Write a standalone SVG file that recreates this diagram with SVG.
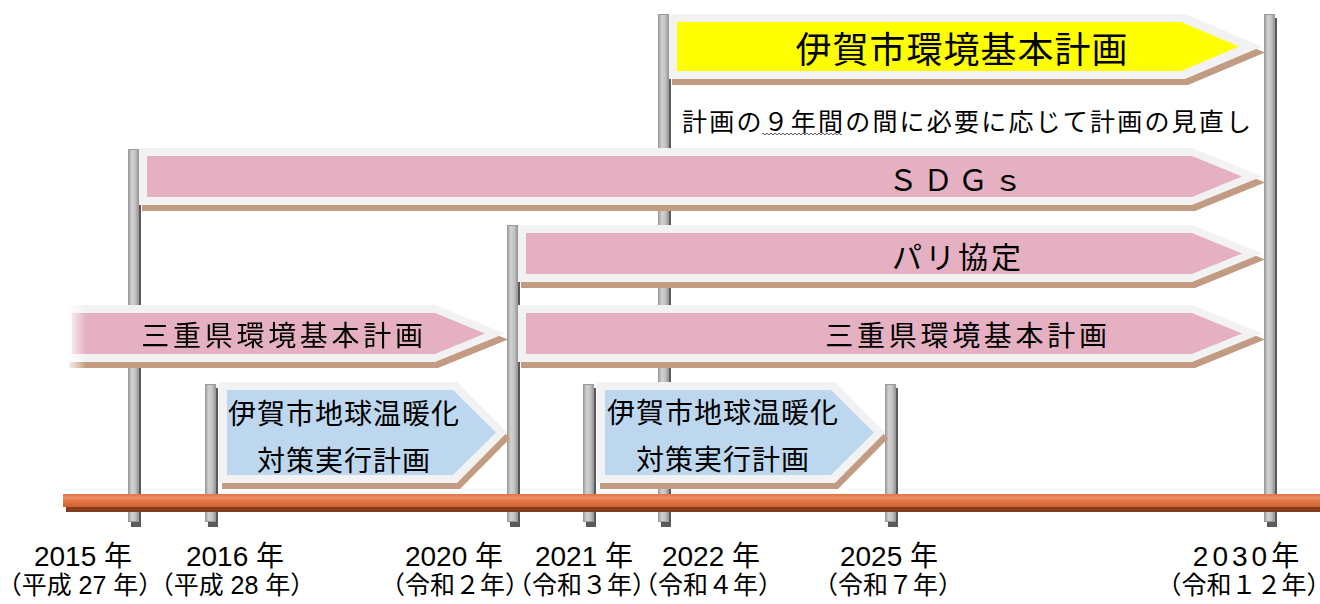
<svg xmlns="http://www.w3.org/2000/svg" width="1320" height="604" viewBox="0 0 1320 604">
<style>
.shadow{fill:#c29b82}
.outer{fill:#f2f2f2}
.pink{fill:#e4b0c2}
.blue{fill:#bdd7ee}
.yellow{fill:#ffff00}
.psh{fill:#5a5a5a}
.pole{fill:url(#poleGrad);stroke:#9a9a9a;stroke-width:1}
.jp{font-family:"Noto Sans CJK JP","Noto Sans",sans-serif;fill:#000;dominant-baseline:central;text-anchor:middle}
.yr{font-family:"Liberation Sans","Noto Sans CJK JP",sans-serif;fill:#000;text-anchor:middle;font-size:28px}
.yr2{font-family:"Liberation Sans","Noto Sans CJK JP",sans-serif;fill:#000;text-anchor:middle;font-size:25px}
.h{font-feature-settings:"halt"}
</style>
<defs>
<linearGradient id="poleGrad" x1="0" y1="0" x2="1" y2="0">
<stop offset="0" stop-color="#a3a3a3"/>
<stop offset="0.35" stop-color="#d2d2d2"/>
<stop offset="0.7" stop-color="#c0c0c0"/>
<stop offset="1" stop-color="#969696"/>
</linearGradient>
<linearGradient id="barGrad" x1="0" y1="0" x2="0" y2="1">
<stop offset="0" stop-color="#e2713f"/>
<stop offset="0.3" stop-color="#ec9068"/>
<stop offset="0.55" stop-color="#e27545"/>
<stop offset="1" stop-color="#d0612f"/>
</linearGradient>
<linearGradient id="fadeGrad" gradientUnits="userSpaceOnUse" x1="66" y1="0" x2="86" y2="0">
<stop offset="0" stop-color="#fff" stop-opacity="0"/>
<stop offset="1" stop-color="#fff" stop-opacity="1"/>
</linearGradient>
<mask id="fadeMask" maskUnits="userSpaceOnUse" x="0" y="290" width="560" height="90">
<rect x="0" y="290" width="560" height="90" fill="url(#fadeGrad)"/>
</mask>
</defs>

<g id="poles">
<g id="pole-2015"><rect class="psh" x="131" y="153" width="10" height="374"/><rect class="pole" x="128.5" y="149.5" width="10" height="372"/></g>
<g id="pole-2016"><rect class="psh" x="208" y="388" width="10" height="139"/><rect class="pole" x="205.5" y="384.5" width="10" height="137"/></g>
<g id="pole-2020"><rect class="psh" x="510" y="229" width="10" height="298"/><rect class="pole" x="507.5" y="225.5" width="10" height="296"/></g>
<g id="pole-2021"><rect class="psh" x="586" y="388" width="10" height="139"/><rect class="pole" x="583.5" y="384.5" width="10" height="137"/></g>
<g id="pole-2022"><rect class="psh" x="661" y="18" width="10" height="509"/><rect class="pole" x="658.5" y="14.5" width="10" height="507"/></g>
<g id="pole-2025"><rect class="psh" x="888" y="388" width="10" height="139"/><rect class="pole" x="885.5" y="384.5" width="10" height="137"/></g>
<g id="pole-2030"><rect class="psh" x="1267" y="18" width="10" height="509"/><rect class="pole" x="1264.5" y="14.5" width="10" height="507"/></g>
</g>

<g id="connectors">
<rect x="66" y="502" width="1254" height="10" fill="#843c1c"/>
<rect x="63" y="494" width="1257" height="13" fill="url(#barGrad)"/>
</g>

<g id="iga-env-plan">
<polygon class="shadow" points="672,20 1188,20 1265,52.5 1188,85 672,85"/>
<polygon class="outer" points="669,14 1185,14 1262,46.5 1185,79 669,79"/>
<polygon class="yellow" points="677,22 1181,22 1239,46.5 1181,71 677,71"/>
<text class="jp" x="962" y="47" font-size="36" letter-spacing="1">伊賀市環境基本計画</text>
</g>

<g id="review-note">
<text x="682" y="120" font-size="25" letter-spacing="2.2" style="font-family:'Noto Sans CJK JP','Noto Sans',sans-serif;dominant-baseline:central" fill="#000">計画の９年間の間に必要に応じて計画の見直し</text>
<path d="M762 134q1-1.6 2 0t2 0t2 0t2 0t2 0t2 0t2 0t2 0t2 0t2 0t2 0t2 0t2 0t2 0t2 0t2 0t2 0t2 0t2 0t2 0t2 0t2 0t2 0t2 0t2 0t2 0t2 0t2 0t2 0t2 0t2 0t2 0t2 0t2 0t2 0t2 0t2 0t2 0t2 0t2 0" fill="none" stroke="#555" stroke-width="1"/>
</g>

<g id="sdgs">
<polygon class="shadow" points="142,154 1195,154 1265,182.5 1195,211 142,211"/>
<polygon class="outer" points="139,148 1192,148 1262,176.5 1192,205 139,205"/>
<polygon class="pink" points="147,156 1192,156 1242,176.5 1192,197 147,197"/>
<text class="jp" x="958" y="178" font-size="30" letter-spacing="5">ＳＤＧｓ</text>
</g>

<g id="paris">
<polygon class="shadow" points="521,231 1195,231 1265,259.5 1195,288 521,288"/>
<polygon class="outer" points="518,225 1192,225 1262,253.5 1192,282 518,282"/>
<polygon class="pink" points="526,233 1192,233 1242,253.5 1192,274 526,274"/>
<text class="jp" x="958" y="255" font-size="30" letter-spacing="3">パリ協定</text>
</g>

<g id="mie-plan-old" mask="url(#fadeMask)">
<polygon class="shadow" points="69,311 438,311 508,339.5 438,368 69,368"/>
<polygon class="outer" points="66,305 435,305 505,333.5 435,362 66,362"/>
<polygon class="pink" points="72,313 435,313 485,333.5 435,354 72,354"/>
<text class="jp" x="284" y="334" font-size="28" letter-spacing="3.7">三重県環境基本計画</text>
</g>

<g id="mie-plan-new">
<polygon class="shadow" points="521,311 1195,311 1265,339.5 1195,368 521,368"/>
<polygon class="outer" points="518,305 1192,305 1262,333.5 1192,362 518,362"/>
<polygon class="pink" points="526,313 1192,313 1242,333.5 1192,354 526,354"/>
<text class="jp" x="968" y="334" font-size="28" letter-spacing="3.7">三重県環境基本計画</text>
</g>

<g id="warming-plan-1">
<polygon class="shadow" points="222,388 460,388 510,438.5 460,489 222,489"/>
<polygon class="outer" points="219,382 457,382 507,432.5 457,483 219,483"/>
<polygon class="blue" points="227,390 453,390 496,432.5 453,475 227,475"/>
<text class="jp" x="344" y="412" font-size="28" letter-spacing="1">伊賀市地球温暖化</text>
<text class="jp" x="344" y="459" font-size="28" letter-spacing="1">対策実行計画</text>
</g>

<g id="warming-plan-2">
<polygon class="shadow" points="600,388 838,388 888,438.5 838,489 600,489"/>
<polygon class="outer" points="597,382 835,382 885,432.5 835,483 597,483"/>
<polygon class="blue" points="605,390 831,390 874,432.5 831,475 605,475"/>
<text class="jp" x="723" y="411" font-size="28" letter-spacing="1">伊賀市地球温暖化</text>
<text class="jp" x="723" y="458" font-size="28" letter-spacing="1">対策実行計画</text>
</g>

<g id="year-labels">
<text class="yr" x="83" y="566">2015 年</text>
<text class="yr2" x="80" y="594"><tspan class="h">（</tspan>平成 27 年<tspan class="h">）</tspan></text>
<text class="yr" x="235" y="566">2016 年</text>
<text class="yr2" x="232" y="594"><tspan class="h">（</tspan>平成 28 年<tspan class="h">）</tspan></text>
<text class="yr" x="454" y="566">2020 年</text>
<text class="yr2" x="455" y="594"><tspan class="h">（</tspan>令和２年<tspan class="h">）</tspan></text>
<text class="yr" x="584" y="566">2021 年</text>
<text class="yr2" x="582" y="594"><tspan class="h">（</tspan>令和３年<tspan class="h">）</tspan></text>
<text class="yr" x="711" y="566">2022 年</text>
<text class="yr2" x="708" y="594"><tspan class="h">（</tspan>令和４年<tspan class="h">）</tspan></text>
<text class="yr" x="889" y="566">2025 年</text>
<text class="yr2" x="888" y="594"><tspan class="h">（</tspan>令和７年<tspan class="h">）</tspan></text>
<text class="yr" x="1248" y="566" letter-spacing="4">2030年</text>
<text class="yr2" x="1244" y="594"><tspan class="h">（</tspan>令和１２年<tspan class="h">）</tspan></text>
</g>
</svg>
